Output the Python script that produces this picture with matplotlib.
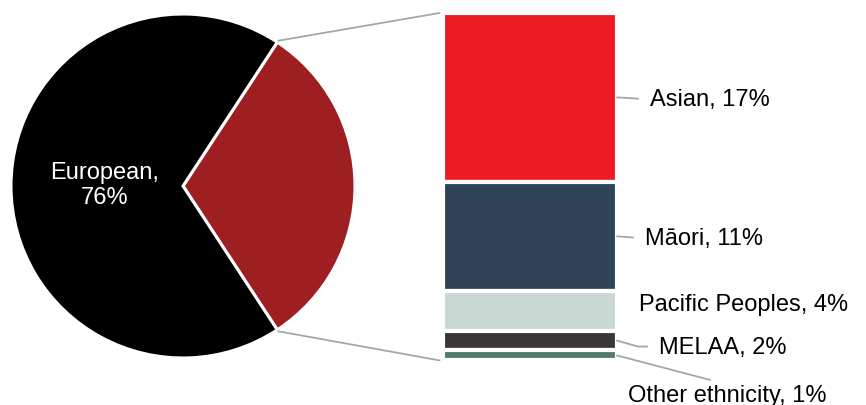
import matplotlib
matplotlib.use("Agg")
import matplotlib.pyplot as plt
from matplotlib.patches import ConnectionPatch
import numpy as np

plt.rcParams['font.family'] = ['Liberation Sans', 'DejaVu Sans']

# ---- data ----
pie_labels = ["European", "Other groups"]
european_value = 76
breakdown_labels = ["Asian", "Māori", "Pacific Peoples", "MELAA", "Other ethnicity"]
breakdown_values = [17, 11, 4, 2, 1]
pie_values = [sum(breakdown_values), european_value]

pie_colors = ["#9E1F22", "#000000"]
bar_colors = ["#ED1C24", "#2E4356", "#C8D8D3", "#3A3536", "#527A6A"]
grey = "#A6A6A6"

W, H = 866, 406
fig = plt.figure(figsize=(W / 100, H / 100), dpi=100)

def px_axes(left, top, right, bottom):
    return fig.add_axes([left / W, 1 - bottom / H, (right - left) / W, (bottom - top) / H])

# ---- pie ----
r = 172
cx, cy = 183, 187
ax1 = px_axes(cx - r, cy - r, cx + r, cy + r)
red_angle = pie_values[0] / sum(pie_values) * 360
wedges, _ = ax1.pie(pie_values, colors=pie_colors, startangle=-red_angle / 2,
                    counterclock=True, radius=1,
                    wedgeprops=dict(edgecolor="white", linewidth=2.2))
ax1.set_xlim(-1, 1)
ax1.set_ylim(-1, 1)
ax1.set_aspect("equal")
ax1.axis("off")
ax1.text(-0.456, 0.01, f"{pie_labels[0]},\n{european_value}%", color="white",
         ha="center", va="center", fontsize=17, linespacing=1.15)

# ---- bar ----
ax2 = px_axes(443, 14, 617, 361.4)
total = sum(breakdown_values)
bottoms = np.concatenate([[0], np.cumsum(breakdown_values)[:-1]])
ax2.bar([0] * len(breakdown_values), breakdown_values, bottom=bottoms, width=1,
        color=bar_colors, edgecolor="white", linewidth=3)
ax2.set_xlim(-0.5, 0.5)
ax2.set_ylim(total, 0)
ax2.axis("off")

# connector lines
lw = 1.3
ang = np.deg2rad(red_angle / 2)
for sgn, yb in [(1, 0), (-1, total)]:
    con = ConnectionPatch(xyA=(np.cos(ang) * 1.01, sgn * np.sin(ang) * 1.01), coordsA=ax1.transData,
                          xyB=(-0.52, yb), coordsB=ax2.transData,
                          color=grey, linewidth=lw)
    fig.add_artist(con)

# labels
offsets = [(33, -2), (28, -2), (22, 7), (42, -6), (11, -40)]
arrows = [
    dict(arrowstyle="-", color=grey, lw=lw, relpos=(0, 0.5), shrinkA=6.5, shrinkB=0),
    dict(arrowstyle="-", color=grey, lw=lw, relpos=(0, 0.5), shrinkA=6.5, shrinkB=0),
    None,
    dict(arrowstyle="-", color=grey, lw=lw, relpos=(0, 0.5), shrinkA=6.5, shrinkB=0,
         connectionstyle="angle,angleA=0,angleB=-16,rad=0"),
    dict(arrowstyle="-", color=grey, lw=lw, relpos=(0.5, 1), shrinkA=5, shrinkB=0),
]
centers = bottoms + np.array(breakdown_values) / 2
for lab, v, c, off, ap in zip(breakdown_labels, breakdown_values, centers, offsets, arrows):
    ax2.annotate(f"{lab}, {v}%", xy=(0.5, c), xycoords="data",
                 xytext=off, textcoords="offset pixels",
                 ha="left", va="center", fontsize=17, color="black",
                 arrowprops=ap, annotation_clip=False)

fig.savefig("out.png", dpi=100)
